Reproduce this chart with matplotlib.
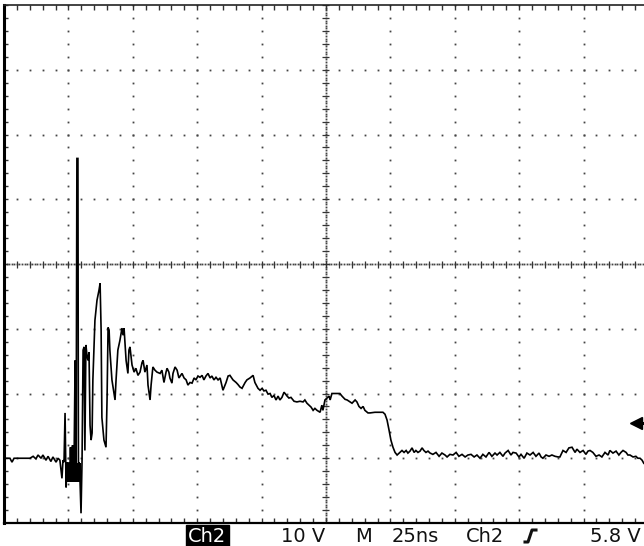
import numpy as np
import matplotlib
matplotlib.use("Agg")
import matplotlib.pyplot as plt
from matplotlib.lines import Line2D

# Scope settings shown in the status line
NS_PER_DIV = 25.0
VOLTS_PER_DIV = 10.0
GROUND_DIV = -3.03          # channel 2 ground position, divisions from centre
TRIGGER_LEVEL_V = 5.8

# Channel 2 record: time (ns from left edge of screen) and voltage (V)
time_ns = [
    0.0, 2.3, 3.1, 3.9, 10.1, 11.3, 12.4, 13.2, 14.4, 15.1, 16.3, 17.1, 18.2, 19.0,
    20.2, 21.0, 21.7, 22.5, 22.9, 23.3, 23.7, 24.1, 24.5, 24.8, 25.2, 25.6, 25.8,
    26.0, 26.4, 26.6, 26.8, 27.2, 27.6, 27.8, 28.0, 28.3, 28.7, 28.9, 29.1, 29.5,
    29.9, 30.3, 30.7, 31.1, 31.4, 31.8, 32.2, 32.6, 33.0, 33.4, 33.8, 34.2, 34.5,
    35.3, 36.1, 36.9, 37.3, 37.7, 38.0, 38.8, 39.6, 40.0, 40.4, 40.8, 41.1, 41.9,
    43.1, 43.5, 44.2, 45.0, 45.8, 46.2, 46.6, 47.4, 48.1, 48.5, 48.9, 49.7, 50.5,
    51.2, 52.0, 52.8, 53.6, 54.0, 54.7, 55.5, 55.9, 56.7, 57.1, 57.8, 58.6, 59.4,
    60.6, 61.3, 62.1, 62.9, 63.3, 64.0, 64.4, 65.2, 65.6, 66.4, 67.2, 67.9, 69.1,
    69.9, 70.7, 71.4, 72.2, 73.0, 73.8, 74.5, 75.3, 76.1, 76.9, 77.6, 78.4, 79.2,
    80.0, 80.7, 81.5, 82.3, 83.1,
    83.9, 85.0, 86.2, 87.0, 87.7, 88.9, 90.1, 90.8, 91.6, 92.4, 93.6, 94.3, 95.5,
    96.7, 97.4, 98.6, 99.4, 100.2, 100.9, 101.7, 102.5, 103.3, 104.0, 104.8, 105.6,
    106.4, 107.1, 107.9, 108.7, 109.1, 109.9, 110.6, 111.4, 112.6, 113.7, 114.9,
    116.1, 116.8, 117.6, 118.4, 119.2, 120.0, 120.7, 121.5, 122.7, 123.4, 123.8,
    124.6, 125.4, 126.2, 126.6, 127.3, 128.5, 129.7, 130.4, 131.2, 132.4, 133.2,
    134.3, 135.1, 136.3, 137.0, 137.8, 138.6, 139.4, 140.1, 141.3, 142.1, 144.0,
    146.0, 147.1, 147.9, 148.7, 149.5, 150.2, 151.0, 151.8, 152.6, 153.7,
    154.5, 155.3, 156.1, 156.8, 157.6, 158.4, 159.2, 159.9, 160.7, 161.5, 162.3,
    163.0, 163.8, 164.6, 165.4, 166.5, 167.7, 168.9, 170.0, 171.2, 172.0, 173.1,
    174.3, 175.5, 176.6, 177.8, 179.0, 180.1, 181.3, 182.5, 183.6, 184.8, 185.9,
    187.1, 188.3, 189.4, 190.6, 191.4, 192.5, 193.7, 194.5, 195.7, 196.8, 197.6,
    198.8, 199.9, 200.7, 201.9, 203.0, 204.2, 205.4, 206.5, 207.7, 208.5, 209.2,
    210.4, 211.6, 212.7, 213.9, 215.1, 215.8, 217.0, 218.2, 219.3, 220.5, 221.7,
    222.4, 223.6, 224.8, 225.9, 226.7, 227.5, 228.6, 229.8, 231.0, 232.1, 233.3,
    234.5, 235.2, 236.4, 237.6, 238.7, 239.5, 240.3, 241.5, 242.2, 243.0, 244.2,
    245.3, 246.1, 246.9, 247.7, 248.4, 250.0,
]
volts = [
    0.3, 0.3, -0.3, 0.3, 0.3, 0.6, 0.2, 0.8, 0.3, 0.8, 0.0, 0.6, -0.2, 0.5,
    -0.3, 0.3, 0.0, -2.8, 0.0, -0.3, 7.3, -4.2, -0.3, -3.1, -0.3, -3.1, 2.0,
    -3.1, -0.3, 2.3, -3.1, -0.3, 15.4, -3.1, -0.3, 46.6, 46.6, -3.1, -0.3, -3.1,
    -8.2, 0.0, 17.0, 17.5, 1.5, 17.8, 16.2, 15.4, 16.7, 5.4, 3.1, 4.2, 12.4,
    21.6, 24.7, 26.3, 27.3, 20.1, 6.6, 3.1, 2.0, 9.3, 20.5, 20.1, 17.0, 12.4,
    9.3, 12.4, 17.0, 18.5, 20.4, 19.3, 20.4, 15.4, 13.4, 17.0, 17.5, 14.7, 13.6,
    14.2, 13.1, 13.6, 15.1, 15.4, 13.6, 14.7, 11.6, 9.3, 11.6, 14.4, 13.9, 13.6,
    13.4, 13.9, 12.0, 13.6, 14.2, 13.6, 12.7, 11.9, 13.4, 14.4, 13.9, 12.7, 13.4,
    12.7, 12.4, 11.6, 12.0, 11.9, 12.7, 12.4, 13.0, 12.8, 13.1, 12.4, 13.0, 13.4,
    12.7, 13.0, 12.4, 12.8, 12.4,
    12.7, 10.8, 12.0, 13.0, 13.1, 12.4, 12.0, 11.7, 11.3, 11.1, 12.0, 12.4, 12.7,
    13.1, 12.0, 11.1, 10.8, 11.1, 10.7, 10.8, 10.2, 10.3, 9.7, 10.0, 9.3,
    9.9, 9.3, 9.7, 10.5, 10.3, 9.9, 9.6, 9.7, 9.1, 9.0, 9.1,
    9.0, 9.3, 8.8, 8.5, 8.2, 7.7, 8.0, 7.7, 7.4, 8.5, 7.7,
    9.3, 9.6, 9.9, 9.3, 10.3, 10.3, 10.3, 10.3, 9.9, 9.4, 9.3,
    9.0, 8.8, 9.3, 9.0, 8.3, 8.0, 8.3, 7.7, 7.3, 7.3, 7.4,
    7.4, 7.4, 7.1, 6.2, 4.6, 3.1, 2.0, 1.2, 0.8, 1.2,
    1.5, 1.2, 1.5, 1.1, 1.4, 1.9, 1.2, 1.5, 1.2, 1.4, 1.9,
    1.5, 1.2, 1.4, 1.1, 0.9, 1.2, 0.6, 1.1, 0.8, 0.5, 0.9,
    0.8, 1.2, 0.6, 0.9, 0.5, 0.8, 0.9, 0.5, 0.8, 0.3, 0.9,
    0.5, 1.2, 0.6, 1.1, 0.8, 1.2, 0.6, 1.1, 1.5, 0.8, 1.2,
    1.1, 0.5, 0.9, 0.3, 1.1, 0.8, 1.2, 0.6, 1.1, 0.5, 0.3,
    0.8, 0.6, 0.8, 0.6, 0.5, 0.5, 1.5, 1.2, 1.9, 2.0, 1.2,
    1.7, 1.2, 1.5, 0.9, 1.4, 1.5, 1.2, 0.6, 0.8, 0.5, 1.2,
    0.8, 1.5, 1.1, 1.4, 0.8, 1.2, 1.5, 1.2, 0.8, 0.8, 0.5,
    0.6, 0.3, 0.3, 0.0, -0.5, -0.5,
]

# Fast ringing right at the edge, too dense to resolve: drawn as an envelope
ring_t = [24.6, 29.8]
ring_lo = [-3.3, -3.3]
ring_hi = [-0.5, -0.5]

# Status line items: (text, left edge px)
status_items = [("10 V", 281), ("M", 355), ("25ns", 392), ("Ch2", 466), ("5.8 V", 590)]
channel_label = "Ch2"

W, H = 644, 546
fig = plt.figure(figsize=(W / 100, H / 100), dpi=100, facecolor="white")

# Screen area in pixels: left edge 4, top 5, 64.4 px per horizontal division
left_px, top_px, bottom_px = 4.0, 5.0, 523.0
div_px = 64.4
ax = fig.add_axes([left_px / W, 1 - bottom_px / H, 10 * div_px / W, (bottom_px - top_px) / H])

y_center = -GROUND_DIV * VOLTS_PER_DIV
y0, y1 = y_center - 4 * VOLTS_PER_DIV, y_center + 4 * VOLTS_PER_DIV
x0, x1 = 0.0, 10 * NS_PER_DIV
ax.set_xlim(x0, x1)
ax.set_ylim(y0, y1)
ax.set_xticks([])
ax.set_yticks([])
ax.spines["right"].set_visible(False)
ax.spines["left"].set_linewidth(2.2)
ax.spines["top"].set_linewidth(1.2)
ax.spines["bottom"].set_linewidth(1.6)
ax.spines["top"].set_color("#222222")

dot_kw = dict(ls="none", marker="s", ms=1.3, mec="none", mfc="#444444", zorder=1)
x_minor = NS_PER_DIV / 5
y_minor = VOLTS_PER_DIV / 5

# Division lines: dotted every minor step
ys_all = np.arange(y0, y1 + 1e-6, y_minor)
xs_all = np.arange(x0, x1 + 1e-6, x_minor)
for k in range(1, 10):
    if k == 5:
        continue
    xv = k * NS_PER_DIV
    ax.plot(np.full_like(ys_all, xv), ys_all, **dot_kw)
for k in range(-3, 4):
    if k == 0:
        continue
    yv = y_center + k * VOLTS_PER_DIV
    ax.plot(xs_all, np.full_like(xs_all, yv), **dot_kw)

# Centre cross: dense dots plus minor ticks
xs_dense = np.arange(x0, x1 + 1e-6, NS_PER_DIV / 25)
ys_dense = np.arange(y0, y1 + 1e-6, VOLTS_PER_DIV / 25)
ax.plot(xs_dense, np.full_like(xs_dense, y_center), **dot_kw)
ax.plot(np.full_like(ys_dense, 5 * NS_PER_DIV), ys_dense, **dot_kw)
tick_v = 3.5 / 64.75 * VOLTS_PER_DIV
tick_t = 3.5 / div_px * NS_PER_DIV
ax.vlines(xs_all, y_center - tick_v, y_center + tick_v, color="#333333", lw=0.9, zorder=1)
ax.hlines(ys_all, 5 * NS_PER_DIV - tick_t, 5 * NS_PER_DIV + tick_t, color="#333333", lw=0.9, zorder=1)

# Edge ticks along the screen border
edge_v = 5 / 64.75 * VOLTS_PER_DIV
edge_t = 4 / div_px * NS_PER_DIV
ax.vlines(xs_all, y1 - edge_v, y1, color="#333333", lw=1.0, zorder=1)
ax.vlines(xs_all, y0, y0 + edge_v, color="#333333", lw=1.0, zorder=1)
ax.hlines(ys_all, x0, x0 + edge_t, color="#333333", lw=1.0, zorder=1)

# Waveform
ax.fill_between(ring_t, ring_lo, ring_hi, color="black", lw=0, zorder=3)
ax.plot(time_ns, volts, color="black", lw=1.2, solid_joinstyle="miter", zorder=4)

# Trigger level marker at right edge
ax.plot([x1 - 4.8], [TRIGGER_LEVEL_V], marker="<", ms=9, color="black", mec="black", zorder=5)
ax.plot([x1 - 4.8, x1], [TRIGGER_LEVEL_V, TRIGGER_LEVEL_V], color="black", lw=2.2, zorder=5)

# Status line
fam = "DejaVu Sans"
txt_kw = dict(family=fam, fontsize=14, color="#111111", va="baseline", ha="left")
base_y = 1 - 542 / H

fig.text(188 / W, base_y, channel_label, color="white", family=fam, fontsize=14,
         va="baseline", ha="left",
         bbox=dict(boxstyle="square,pad=0.12", fc="black", ec="black"))
for s, xp in status_items:
    fig.text(xp / W, base_y, s, **txt_kw)

# Rising-edge trigger slope symbol
sx = [525, 528, 532, 536]
sy = [542, 542, 530, 530]
fig.add_artist(Line2D([x / W for x in sx], [1 - y / H for y in sy], color="#111111", lw=2.2,
                      transform=fig.transFigure))

fig.savefig("out.png", dpi=100, facecolor="white")
